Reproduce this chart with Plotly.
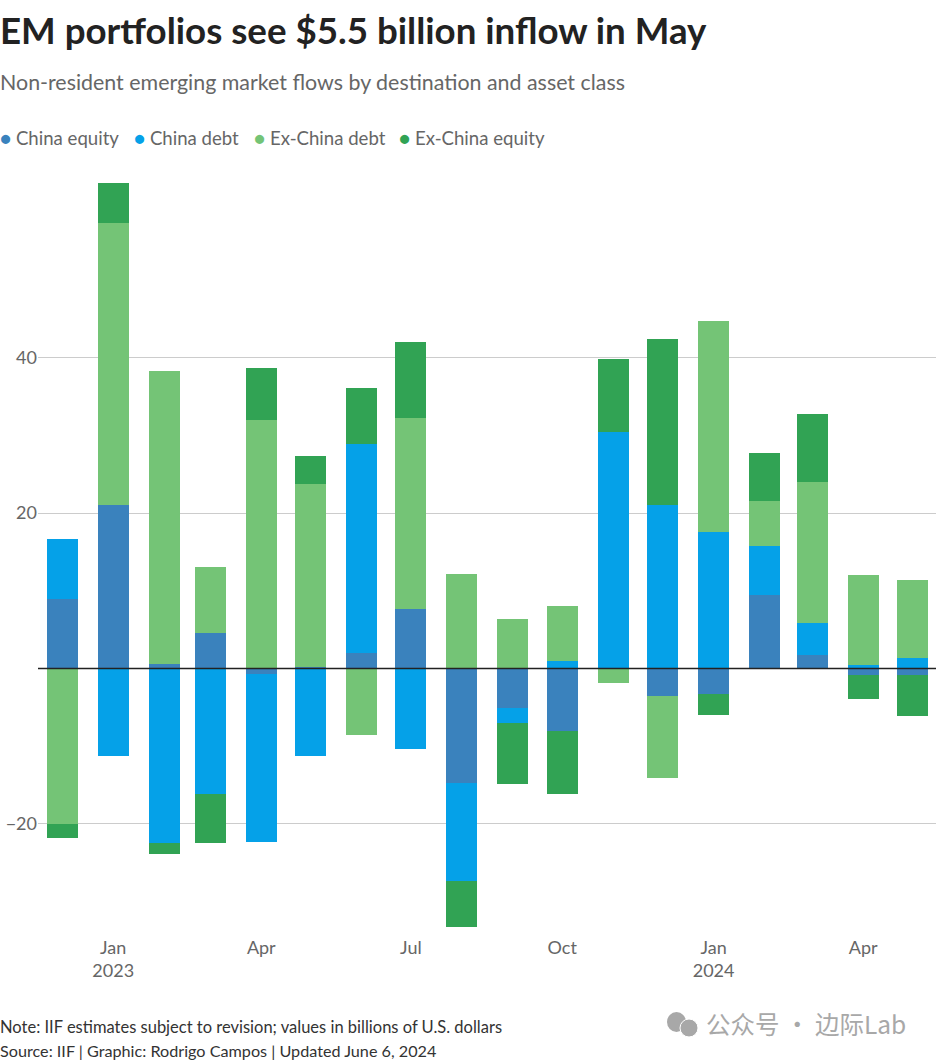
import plotly.graph_objects as go

months = ['2022-12-01', '2023-01-01', '2023-02-01', '2023-03-01', '2023-04-01', '2023-05-01',
          '2023-06-01', '2023-07-01', '2023-08-01', '2023-09-01', '2023-10-01', '2023-11-01',
          '2023-12-01', '2024-01-01', '2024-02-01', '2024-03-01', '2024-04-01', '2024-05-01']

china_equity = [9.0, 21.0, 0.6, 4.6, -0.7, 0.2, 2.0, 7.6, -14.7, -5.1, -8.0, 0.0, -3.5, -3.3, 9.4, 1.7, -0.9, -0.9]
china_debt = [7.7, -11.2, -22.4, -16.2, -21.6, -11.3, 26.9, -10.3, -12.7, -1.9, 1.0, 30.5, 21.0, 17.6, 6.4, 4.2, 0.4, 1.3]
ex_china_debt = [-20.0, 36.3, 37.7, 8.5, 32.0, 23.5, -8.6, 24.6, 12.1, 6.4, 7.0, -1.9, -10.6, 27.1, 5.7, 18.1, 11.6, 10.1]
ex_china_equity = [-1.8, 5.2, -1.5, -6.3, 6.7, 3.6, 7.2, 9.8, -5.9, -7.9, -8.1, 9.3, 21.4, -2.7, 6.2, 8.7, -3.0, -5.2]

series_names = ['China equity', 'China debt', 'Ex-China debt', 'Ex-China equity']
series_colors = ['#3a82bd', '#05a1e8', '#74c476', '#31a354']
series_values = [china_equity, china_debt, ex_china_debt, ex_china_equity]

y_ticks = [-20, 20, 40]
x_ticks = ['2023-01-01', '2023-04-01', '2023-07-01', '2023-10-01', '2024-01-01', '2024-04-01']
x_labels = ['Jan<br>2023', 'Apr', 'Jul', 'Oct', 'Jan<br>2024', 'Apr']

FONT = 'Lato'
W, H = 936, 1060
L, T, B = 38, 170, 125
BAR_MS = 18.8 * 86400000


def px_x(x):
  return (x - L) / (W - L)


def px_y(y):
  return 1 - (y - T) / (H - T - B)


def label(x, y, text, size, color, **kw):
  return dict(x=px_x(x), y=px_y(y), xref='paper', yref='paper', text=text, showarrow=False,
              xanchor='left', yanchor='middle', align='left',
              font=dict(family=kw.pop('family', FONT), size=size, color=color), **kw)


fig = go.Figure()
for name, color, values in zip(series_names, series_colors, series_values):
  fig.add_trace(go.Bar(x=months, y=values, name=name, width=BAR_MS,
                       marker=dict(color=color, line=dict(width=0)), showlegend=False))

notes = [
  label(-2, 30, '<b>EM portfolios see $5.5 billion inflow in May</b>', 36.7, '#222222'),
  label(-2, 82, 'Non-resident emerging market flows by destination and asset class', 21.4, '#666666'),
  label(-2, 1027, 'Note: IIF estimates subject to revision; values in billions of U.S. dollars', 16.5, '#333333'),
  label(-2, 1050, 'Source: IIF | Graphic: Rodrigo Campos | Updated June 6, 2024', 16.2, '#333333'),
  label(704, 1023, '公众号 · 边际Lab', 24.5, '#a8a8a8', family='Noto Sans CJK SC'),
]

# legend is drawn by hand, plotly only gives square swatches for bars
legend_x = [-2, 132, 252, 397]
for x, name, color in zip(legend_x, series_names, series_colors):
  notes.append(label(x, 138, '<span style="color:%s">●</span> %s' % (color, name), 18.6, '#666666'))

fig.update_layout(
  width=W, height=H, margin=dict(l=L, r=0, t=T, b=B, autoexpand=False),
  paper_bgcolor='white', plot_bgcolor='white', barmode='relative', bargap=0,
  font=dict(family=FONT, size=18, color='#666666'),
  annotations=notes,
  shapes=[
    dict(type='line', xref='paper', yref='y', x0=0, x1=1, y0=0, y1=0,
         line=dict(color='#222222', width=1.6), layer='above'),
    dict(type='circle', xref='paper', yref='paper', x0=px_x(667), x1=px_x(686),
         y0=px_y(1032), y1=px_y(1012), fillcolor='#a8a8a8', line=dict(width=0)),
    dict(type='circle', xref='paper', yref='paper', x0=px_x(680), x1=px_x(698),
         y0=px_y(1037), y1=px_y(1019), fillcolor='#a8a8a8', line=dict(color='white', width=1)),
  ],
  xaxis=dict(type='date', range=['2022-11-16 06:00', '2024-05-15 06:00'], tickvals=x_ticks, ticktext=x_labels,
             showgrid=False, zeroline=False, showline=False, ticks=''),
  yaxis=dict(range=[-34.3, 64.16], tickvals=y_ticks, showgrid=True, gridcolor='#cccccc', gridwidth=1,
             zeroline=False, showline=False, ticks=''),
)

fig.write_html('out.html', config=dict(displayModeBar=False), post_script="document.body.style.margin='0';")
